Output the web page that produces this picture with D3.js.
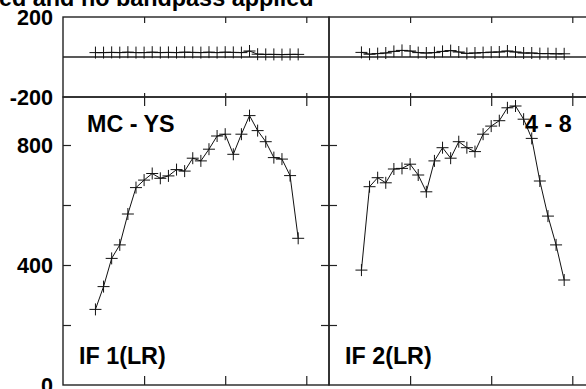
<!DOCTYPE html>
<html>
<head>
<meta charset="utf-8">
<script src="https://cdn.jsdelivr.net/npm/d3@7"></script>
<style>
  body { margin: 0; background: #fff; }
  svg { display: block; font-family: "Liberation Sans", Arial, sans-serif; font-weight: bold; }
</style>
</head>
<body>
<svg id="chart" width="586" height="389"></svg>
<script>
// channel numbers along x
const channels = [4, 5, 6, 7, 8, 9, 10, 11, 12, 13, 14, 15, 16, 17, 18, 19, 20, 21, 22, 23, 24, 25, 26, 27, 28, 29]

// amplitude per channel (lower panels)
const ampIF1 = [252, 328, 422, 467, 570, 658, 683, 705, 689, 697, 718, 713, 756, 747, 786, 830, 836, 769, 836, 898, 848, 811, 758, 753, 698, 489]
const ampIF2 = [383, 661, 691, 674, 720, 722, 736, 700, 644, 747, 791, 756, 811, 791, 778, 836, 863, 881, 924, 930, 886, 822, 680, 563, 467, 350]

// phase per channel (upper panels)
const phaseIF1 = [22, 22, 23, 22, 24, 22, 22, 24, 22, 23, 22, 24, 23, 22, 24, 22, 24, 23, 22, 30, 14, 13, 13, 12, 13, 13]
const phaseIF2 = [23, 14, 17, 20, 28, 33, 30, 22, 20, 22, 28, 32, 25, 18, 20, 22, 24, 25, 30, 25, 20, 20, 17, 17, 16, 16]

const ifLabels = ['IF 1(LR)', 'IF 2(LR)']
const baselineLabels = ['MC - YS', '4 - 8']
const phaseTicks = [200, -200]
const ampTicks = [800, 400, 0]

const svg = d3.select('#chart')

const panelW = 266
const left = 63
const phaseY = d3.scaleLinear().domain([-200, 200]).range([97, 17])
const ampY = d3.scaleLinear().domain([0, 960]).range([385, 97])

const panels = [
  { amp: ampIF1, phase: phaseIF1, x0: left, labelX: 87 },
  { amp: ampIF2, phase: phaseIF2, x0: left + panelW, labelX: 525 }
]

// title, cut off by the top of the page
svg.append('text')
  .attr('x', -1)
  .attr('y', 6)
  .attr('font-size', 23.4)
  .text('ed and no bandpass applied')

// y tick labels
svg.selectAll('.plab')
  .data(phaseTicks)
  .enter().append('text')
  .attr('x', 53)
  .attr('y', d => phaseY(d))
  .attr('dy', '0.36em')
  .attr('text-anchor', 'end')
  .attr('font-size', 21.6)
  .text(d => d)

svg.selectAll('.alab')
  .data(ampTicks)
  .enter().append('text')
  .attr('x', 53)
  .attr('y', d => ampY(d))
  .attr('dy', '0.36em')
  .attr('text-anchor', 'end')
  .attr('font-size', 21.6)
  .text(d => d)

const frameColor = '#222'

panels.forEach(function (p, i) {
  const x = d3.scaleLinear().domain([0, 32.8]).range([p.x0, p.x0 + panelW])
  const g = svg.append('g')
  const noLabel = () => ''

  // inward ticks on every side
  g.append('g').attr('transform', 'translate(0,17)')
    .call(d3.axisBottom(x).tickValues([10, 20, 30]).tickSize(6).tickFormat(noLabel))
  g.append('g').attr('transform', 'translate(0,97)')
    .call(d3.axisTop(x).tickValues([10, 20, 30]).tickSize(4).tickFormat(noLabel))
  g.append('g').attr('transform', 'translate(0,97)')
    .call(d3.axisBottom(x).tickValues([10, 20, 30]).tickSize(9).tickFormat(noLabel))
  g.append('g').attr('transform', 'translate(0,385)')
    .call(d3.axisTop(x).tickValues([10, 20, 30]).tickSize(9).tickFormat(noLabel))
  g.append('g').attr('transform', 'translate(' + p.x0 + ',0)')
    .call(d3.axisRight(ampY).tickValues([200, 400, 600, 800]).tickSize(8).tickFormat(noLabel))
  g.append('g').attr('transform', 'translate(' + (p.x0 + panelW) + ',0)')
    .call(d3.axisLeft(ampY).tickValues([200, 400, 600, 800]).tickSize(8).tickFormat(noLabel))
  g.selectAll('.domain').remove()
  g.selectAll('.tick line').attr('stroke', frameColor).attr('stroke-width', 1.2)

  // frames
  g.append('rect')
    .attr('x', p.x0).attr('y', phaseY(200))
    .attr('width', panelW).attr('height', phaseY(-200) - phaseY(200))
    .attr('fill', 'none').attr('stroke', frameColor).attr('stroke-width', 1.4)
  g.append('rect')
    .attr('x', p.x0).attr('y', ampY(960))
    .attr('width', panelW).attr('height', ampY(0) - ampY(960))
    .attr('fill', 'none').attr('stroke', frameColor).attr('stroke-width', 1.4)

  // zero phase line
  g.append('line')
    .attr('x1', p.x0).attr('x2', p.x0 + panelW)
    .attr('y1', phaseY(0)).attr('y2', phaseY(0))
    .attr('stroke', frameColor).attr('stroke-width', 1.3)

  // phase series
  const phaseLine = d3.line().x((d, j) => x(channels[j])).y(d => phaseY(d))
  g.append('path').datum(p.phase)
    .attr('d', phaseLine)
    .attr('fill', 'none').attr('stroke', '#111').attr('stroke-width', 1)
  g.selectAll('.pmk').data(p.phase).enter().append('path')
    .attr('d', 'M-6,0H6M0,-6V6')
    .attr('transform', (d, j) => 'translate(' + x(channels[j]) + ',' + phaseY(d) + ')')
    .attr('stroke', '#111').attr('stroke-width', 1)

  // amplitude series
  const ampLine = d3.line().x((d, j) => x(channels[j])).y(d => ampY(d))
  g.append('path').datum(p.amp)
    .attr('d', ampLine)
    .attr('fill', 'none').attr('stroke', '#111').attr('stroke-width', 1)
  g.selectAll('.amk').data(p.amp).enter().append('path')
    .attr('d', 'M-6,0H6M0,-6V6')
    .attr('transform', (d, j) => 'translate(' + x(channels[j]) + ',' + ampY(d) + ')')
    .attr('stroke', '#111').attr('stroke-width', 1)

  // panel labels
  g.append('text')
    .attr('x', p.labelX)
    .attr('y', 131.5)
    .attr('font-size', 23.3)
    .text(baselineLabels[i])
  g.append('text')
    .attr('x', p.x0 + 16)
    .attr('y', 363.5)
    .attr('font-size', 23.3)
    .text(ifLabels[i])
})
</script>
</body>
</html>
